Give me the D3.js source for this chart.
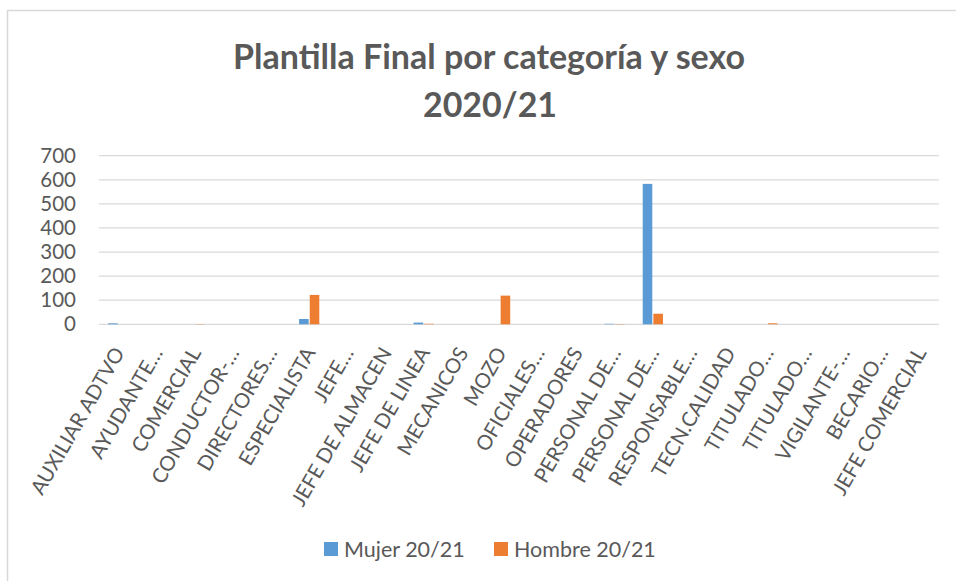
<!DOCTYPE html>
<html>
<head>
<meta charset="utf-8">
<script src="https://cdn.jsdelivr.net/npm/d3@7"></script>
<style>
  body { margin: 0; background: #fff; }
  text { font-family: Lato, "Open Sans", sans-serif; fill: #595959; }
</style>
</head>
<body>
<div id="vis"></div>
<script>
var w = 956,
    h = 581;

// categories as printed on the axis (Excel truncates the long ones)
const categories = [
  "AUXILIAR ADTVO", "AYUDANTE…", "COMERCIAL", "CONDUCTOR-…", "DIRECTORES…",
  "ESPECIALISTA", "JEFE…", "JEFE DE ALMACEN", "JEFE DE LINEA", "MECANICOS",
  "MOZO", "OFICIALES…", "OPERADORES", "PERSONAL DE…", "PERSONAL DE…",
  "RESPONSABLE…", "TECN.CALIDAD", "TITULADO…", "TITULADO…", "VIGILANTE-…",
  "BECARIO…", "JEFE COMERCIAL"
];
const mujer  = [4, 0, 0, 0, 0, 22, 0, 0, 7, 0, 0, 0, 0, 2, 583, 0, 0, 0, 0, 0, 0, 0];
const hombre = [0, 0, 1, 0, 0, 122, 0, 0, 2, 0, 119, 0, 0, 1, 44, 0, 0, 4, 0, 0, 0, 0];
const series = ["Mujer 20/21", "Hombre 20/21"];
const colors = ["#5B9BD5", "#ED7D31"];
const yTicks = [0, 100, 200, 300, 400, 500, 600, 700];

const rows = categories.map((c, i) => ({ i: i, cat: c, vals: [mujer[i], hombre[i]] }));

const svg = d3.select("#vis").append("svg")
    .attr("width", w)
    .attr("height", h);

// chart frame
svg.append("rect")
    .attr("x", 7.5).attr("y", 10.5)
    .attr("width", 1000).attr("height", 700)
    .attr("fill", "none")
    .attr("stroke", "#d9d9d9")
    .attr("stroke-width", 1.5);

// title
const title = svg.append("text")
    .attr("text-anchor", "middle")
    .attr("font-weight", "bold")
    .attr("font-size", 34);
title.append("tspan").attr("x", 489).attr("y", 69).text("Plantilla Final por categoría y sexo");
title.append("tspan").attr("x", 490).attr("y", 117).text("2020/21");

const plotL = 99, plotR = 939, plotT = 155.7, plotB = 324.3;

const x0 = d3.scaleBand()
    .domain(d3.range(categories.length))
    .range([plotL, plotR]);

const x1 = d3.scaleBand()
    .domain([0, 1])
    .range([x0.bandwidth() * 0.24, x0.bandwidth() * 0.77])
    .paddingInner(0.1);

const y = d3.scaleLinear()
    .domain([0, 700])
    .range([plotB, plotT]);

// gridlines
svg.append("g")
  .selectAll("line")
    .data(yTicks)
  .enter().append("line")
    .attr("x1", plotL).attr("x2", plotR)
    .attr("y1", d => y(d)).attr("y2", d => y(d))
    .attr("stroke", "#d9d9d9")
    .attr("stroke-width", 1.3);

// y axis labels
svg.append("g")
  .selectAll("text")
    .data(yTicks)
  .enter().append("text")
    .attr("x", 76)
    .attr("y", d => y(d))
    .attr("dy", "0.35em")
    .attr("text-anchor", "end")
    .attr("font-size", 20.5)
    .text(d => d);

// bars
const groups = svg.append("g")
  .selectAll("g")
    .data(rows)
  .enter().append("g")
    .attr("transform", d => "translate(" + x0(d.i) + ",0)");

groups.selectAll("rect")
    .data(d => d.vals.map((v, k) => ({ k: k, v: v })))
  .enter().append("rect")
    .attr("x", d => x1(d.k))
    .attr("width", x1.bandwidth())
    .attr("y", d => y(d.v))
    .attr("height", d => plotB - y(d.v))
    .attr("fill", d => colors[d.k]);

// category labels
svg.append("g")
  .selectAll("text")
    .data(rows)
  .enter().append("text")
    .attr("transform", d => "translate(" + (x0(d.i) + x0.bandwidth() / 2 + 1) + ",349) rotate(-60)")
    .attr("dy", "0.35em")
    .attr("text-anchor", "end")
    .attr("font-size", 20.5)
    .text(d => d.cat);

// legend
const legendX = [324, 494];
const legend = svg.append("g")
  .selectAll("g")
    .data(series)
  .enter().append("g")
    .attr("transform", (d, k) => "translate(" + legendX[k] + ",542)");

legend.append("rect")
    .attr("width", 14).attr("height", 14)
    .attr("fill", (d, k) => colors[k]);

legend.append("text")
    .attr("x", 20)
    .attr("y", 14.5)
    .attr("font-size", 21.5)
    .text(d => d);
</script>
</body>
</html>
